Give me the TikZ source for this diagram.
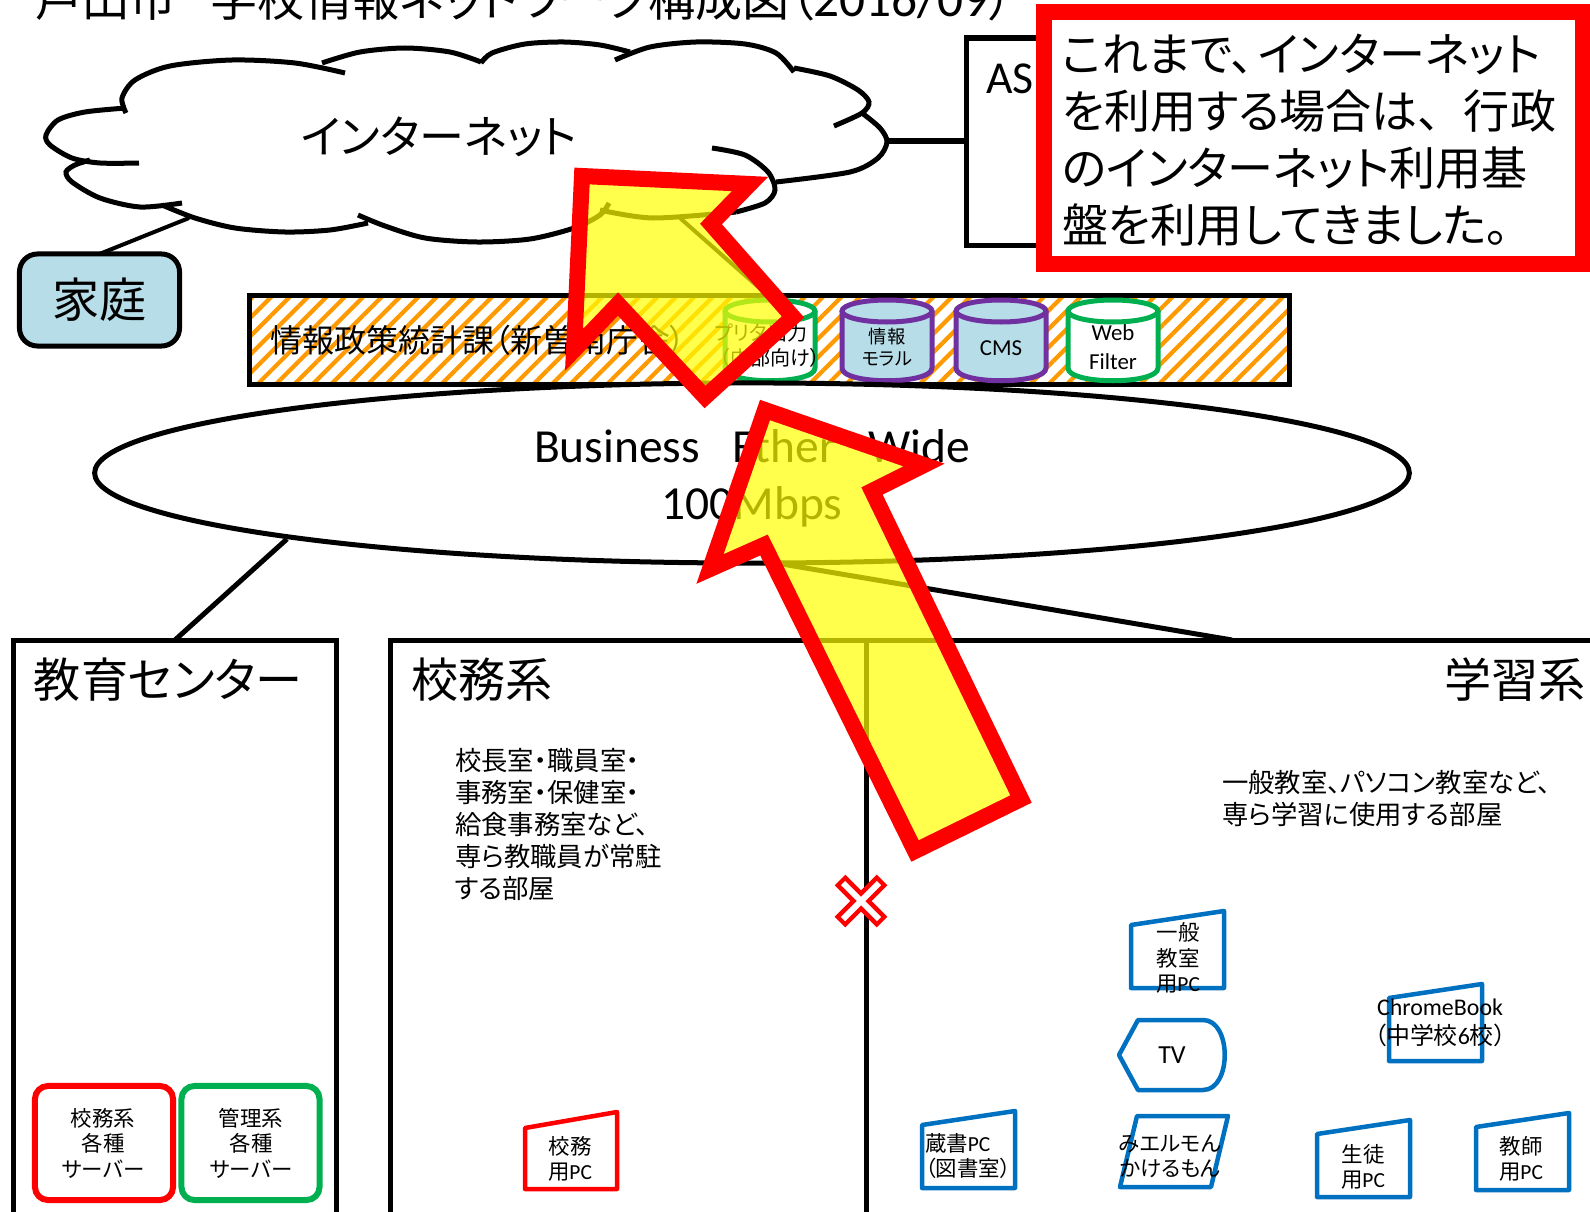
\documentclass[tikz,border=0pt]{standalone}
\usepackage{fontspec}
\usepackage{tikz}
\usetikzlibrary{calc}
\usetikzlibrary{patterns.meta}
\usetikzlibrary{shapes.geometric}
\setmainfont[RawFeature=+palt]{Noto Sans CJK JP}
\newfontfamily\latinfont{Carlito}
\newfontfamily\fullfont{Noto Sans CJK JP}
\newcommand{\ltn}[1]{{\latinfont #1}}
\newcommand{\fw}[1]{{\fullfont #1}}
\definecolor{lanblue}{HTML}{0070C0}
\definecolor{grnline}{HTML}{00B050}
\definecolor{purline}{HTML}{7030A0}
\definecolor{dbfill}{HTML}{B7DDE8}
\definecolor{stripe}{HTML}{FF9900}
\definecolor{markyellow}{RGB}{255,255,0}
\tikzset{
  every node/.style={inner sep=0pt,outer sep=0pt},
  cloudline/.style={black,line width=0.5mm},
  netline/.style={black,line width=0.5mm},
  pcline/.style={lanblue,line width=0.45mm,line join=round},
  bigarrow/.style={red,fill=markyellow,fill opacity=0.7,line width=1.6mm,miter limit=20},
  srvbox/.style={rounded corners=1.3mm,line width=0.6mm,fill=white,minimum width=1.38cm,minimum height=1.14cm},
  hugetxt/.style={font=\fontsize{13.4pt}{16.2pt}\selectfont,align=center},
  midtxt/.style={font=\fontsize{7.5pt}{9.1pt}\selectfont,align=left},
  pctxt/.style={font=\fontsize{6.1pt}{7.1pt}\selectfont,align=center},
  dbtxt/.style={font=\fontsize{5.2pt}{6.3pt}\selectfont,align=center},
}
\begin{document}
\begin{tikzpicture}[x=0.01cm,y=-0.01cm]
\useasboundingbox (0,0) rectangle (1590,1212);

\node[hugetxt,anchor=west] (title) at (35,-1) {戸田市\hspace{9.8pt}学校情報ネットワーク構成図（{\latinfont\fontsize{14.6pt}{16pt}\selectfont 2016/09}）};

% cloud, lobe by lobe
\draw[cloudline] plot[smooth] coordinates {(126,113) (122,98) (135,80) (170,66) (232,60) (295,63) (345,73)};
\draw[cloudline] plot[smooth] coordinates {(322,63) (360,52) (405,48) (450,52) (481,62)};
\draw[cloudline] plot[smooth] coordinates {(481,63) (492,53) (525,44) (564,42) (600,45) (630,52)};
\draw[cloudline] plot[smooth] coordinates {(615,60) (650,47) (696,42) (745,44) (776,53) (794,72)};
\draw[cloudline] plot[smooth] coordinates {(794,68) (830,76) (858,90) (869,102) (862,113) (834,126)};
\draw[cloudline] plot[smooth] coordinates {(862,113) (880,128) (887,142) (878,158) (850,172) (776,182)};
\draw[cloudline] plot[smooth] coordinates {(712,148) (745,155) (768,172) (775,190) (765,203) (736,212)};
\draw[cloudline] plot[smooth] coordinates {(609,203) (600,215) (574,228) (530,239) (477,242) (425,238) (385,226) (358,215)};
\draw[cloudline] plot[smooth] coordinates {(368,223) (330,230) (285,232) (235,228) (195,218) (162,205)};
\draw[cloudline] plot[smooth] coordinates {(182,203) (140,207) (100,198) (72,182) (66,172) (75,165) (90,160)};
\draw[cloudline] plot[smooth] coordinates {(139,163) (100,163) (72,158) (50,145) (46,135) (58,120) (85,112) (126,108)};
\draw[cloudline] plot[smooth] coordinates {(600,210) (653,218) (736,212)};
\node[font=\fontsize{12.8pt}{15pt}\selectfont] (inet) at (439,137) {インターネット};

\coordinate (inetsw) at (189,218);
\coordinate (inetse) at (889,141);
\coordinate (inetlow) at (680,218);
\coordinate (bartop) at (765,293);
\coordinate (aspw) at (966,141);

\node[draw,line width=0.5mm,rounded corners=1.8mm,fill=dbfill,minimum width=1.6cm,minimum height=0.92cm,hugetxt] (home) at (99.5,300) {家庭};
\draw[netline,line width=0.4mm] (inetsw) -- (home.north);

\draw[netline] (1100,38) -- (966,38) -- (966,245) -- (1100,245);
\node[anchor=west,font=\fontsize{13pt}{15pt}\selectfont\latinfont] (asp) at (986,79) {AS};
\draw[netline] (inetse) -- (aspw);

% striped bar with its disks
\node[draw,line width=0.5mm,preaction={fill=white},pattern={Lines[angle=45,distance=1.3mm,line width=0.42mm]},pattern color=stripe,minimum width=10.39cm,minimum height=0.89cm] (bar) at (769.5,340) {};
\draw[netline,line width=0.4mm] (inetlow) -- (bartop);
\node[anchor=west,font=\fontsize{9.1pt}{11pt}\selectfont] (office) at (270,340) {情報政策統計課（新曽南庁舎）};

\foreach \cc/\bc/\fc in {770/grnline/white,887/purline/dbfill,1001/purline/dbfill,1113/grnline/white}
{
	\draw[draw=\bc,fill=\fc,line width=0.5mm] (\cc-45,311) -- (\cc-45,368) .. controls (\cc-45,385) and (\cc+45,385) .. (\cc+45,368) -- (\cc+45,311);
	\draw[draw=\bc,fill=\fc,line width=0.5mm] (\cc,311) ellipse [x radius=45,y radius=11];
}
\node[dbtxt,font=\fontsize{5.7pt}{7.1pt}\selectfont] (printtxt) at (770,346) {プリタ出力\hspace*{5pt}\\（内部向け）};
\node[dbtxt] (moraltxt) at (887,347) {情報\\モラル};
\node[font=\fontsize{6.5pt}{8pt}\selectfont\latinfont] (cmstxt) at (1001,348) {CMS};
\node[font=\fontsize{6.5pt}{8.4pt}\selectfont\latinfont,align=center] (webtxt) at (1113,347) {Web\\Filter};

\node[draw,ellipse,line width=0.5mm,fill=white,minimum width=13.14cm,minimum height=1.8cm] (wan) at (752,473) {};
\node[font=\fontsize{13.5pt}{16.2pt}\selectfont\latinfont,align=center] (wantxt) at (752,478) {Business\ \ \ Ether\ \ \ Wide\\100Mbps};

% boxes
\node[draw,line width=0.5mm,minimum width=3.22cm,minimum height=7cm,anchor=north] (edubox) at (175,640) {};
\draw[netline] (390,1240) -- (390,640) -- (1620,640);
\draw[netline] (866,640) -- (866,1240);
\coordinate (wansw) at (287,539);
\coordinate (wanse) at (770,562);
\coordinate (learntop) at (1232,640);
\draw[netline] (wansw) -- (edubox.north);
\draw[netline] (wanse) -- (learntop);

\node[hugetxt,anchor=west] (edutxt) at (34,680) {教育センター};
\node[hugetxt,anchor=west] (admtxt) at (411,680) {校務系};
\node[hugetxt,anchor=east] (lrntxt) at (1586,680) {学習系};
\node[midtxt,anchor=north west] (admnote) at (455,748) {校長室・職員室・\\事務室・保健室・\\給食事務室など、\\専ら教職員が常駐\\する部屋};
\node[midtxt,anchor=north west] (lrnnote) at (1222,770) {一般教室、パソコン教室など、\\専ら学習に使用する部屋};

\node[srvbox,draw=red] (admsrv) at (104,1143) {};
\node[srvbox,draw=grnline] (mgtsrv) at (250.5,1143) {};
\node[pctxt,font=\fontsize{6.1pt}{7.25pt}\selectfont] (admsrvtxt) at (103,1143) {校務系\\各種\\サーバー};
\node[pctxt,font=\fontsize{6.1pt}{7.25pt}\selectfont] (mgtsrvtxt) at (251,1143) {管理系\\各種\\サーバー};

% terminals
\foreach \px/\py in {1131/925,1389/998,922/1125,1317/1134,1476/1127}
{
	\draw[pcline] (\px,\py) -- ++(93,-14) -- ++(0,77) -- ++(-93,0) -- cycle;
}
\draw[pcline,red] (525,1128) -- ++(92,-16) -- ++(0,77) -- ++(-92,0) -- cycle;
\draw[pcline] (1119,1055) -- (1138,1020) -- (1203,1020) .. controls (1232,1020) and (1232,1090) .. (1203,1090) -- (1138,1090) -- cycle;
\draw[pcline] (1137,1116) -- (1228,1116) -- (1211,1187) -- (1120,1187) -- cycle;

\node[pctxt,font=\fontsize{6.1pt}{7.25pt}\selectfont] (gentxt) at (1178,958) {一般\\教室\\用\ltn{PC}};
\node[font=\fontsize{6.8pt}{8.2pt}\selectfont,align=center] (chrtxt) at (1440,1023) {\ltn{ChromeBook}\\（中学校\ltn{6}校）};
\node[font=\fontsize{7.4pt}{9pt}\selectfont\latinfont] (tvtxt) at (1172,1055) {TV};
\node[pctxt,align=left,anchor=west] (libtxt) at (925,1156) {蔵書\ltn{PC}\\（図書室）};
\node[pctxt] (mietxt) at (1170,1156) {みエルモん\\かけるもん};
\node[pctxt] (stutxt) at (1363,1167) {生徒\\用\ltn{PC}};
\node[pctxt] (teatxt) at (1521,1159) {教師\\用\ltn{PC}};
\node[pctxt] (admtxt2) at (570,1159) {校務\\用\ltn{PC}};

% the two arrows sit over everything above
\draw[bigarrow] (582,176) -- (750,184) -- (711,224) -- (793,317) -- (705,397) -- (618,304) -- (574,350) -- cycle;
\draw[bigarrow] (765,410) -- (924,465) -- (872,491) -- (1021,799) -- (915,851) -- (764,545) -- (710,569) -- cycle;

\draw[red,line width=1.5mm] (840,880) -- (882,922) (882,880) -- (840,922);
\draw[white,line width=0.6mm] (843,883) -- (879,919) (879,883) -- (843,919);

\node[draw=red,fill=white,line width=1.6mm,minimum width=5.39cm,minimum height=2.52cm,anchor=north west] (notebox) at (1043.5,12) {};
\node[anchor=north west,align=left,font=\fontsize{13.1pt}{16.2pt}\selectfont] (note) at (1062,34) {これまで、\hspace{1pt}インターネット\\を利用する場合は\fw{、}行政\\のインターネット利用基\\盤を利用してきました\fw{。}};
\end{tikzpicture}
\end{document}
